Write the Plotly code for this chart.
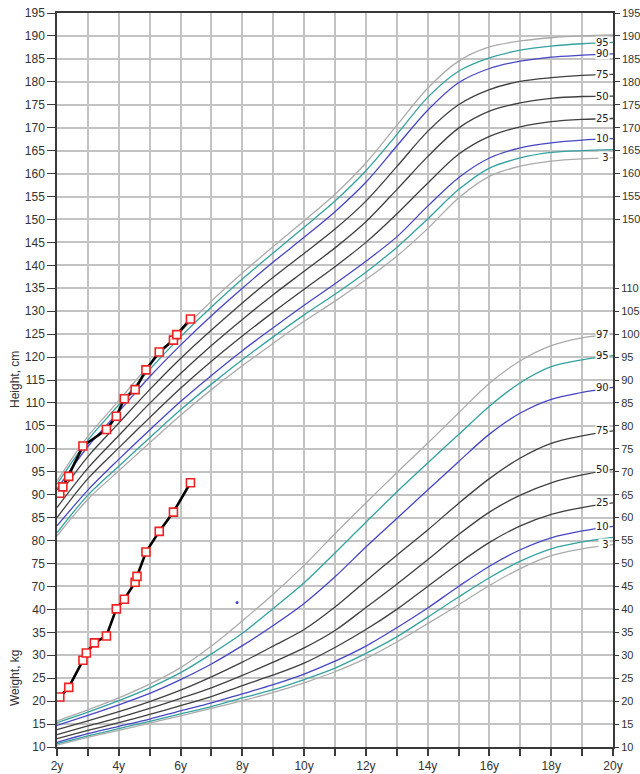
import plotly.graph_objects as go

# ---------------- data ----------------
ages = [2, 3, 4, 5, 6, 7, 8, 9, 10, 11, 12, 13, 14, 15, 16, 17, 18, 19, 20]

# Height-for-age percentile curves (cm)
height_p97 = [93.0, 102.7, 110.5, 118.4, 125.5, 132.2, 138.3, 144.1, 149.7, 155.5, 162.3, 170.5, 178.6, 184.5, 187.6, 188.9, 189.6, 190.0, 190.2]
height_p95 = [92.3, 101.9, 109.6, 117.3, 124.4, 130.9, 137.0, 142.7, 148.3, 154.0, 160.6, 168.5, 176.6, 182.3, 185.2, 186.9, 187.8, 188.3, 188.6]
height_p90 = [91.2, 100.5, 108.1, 115.7, 122.6, 129.0, 135.0, 140.7, 146.1, 151.7, 158.1, 166.0, 173.8, 179.8, 182.9, 184.5, 185.4, 185.8, 186.1]
height_p75 = [89.4, 98.3, 105.6, 112.9, 119.7, 125.9, 131.8, 137.4, 142.6, 147.9, 154.0, 161.5, 169.2, 175.0, 178.3, 180.1, 180.9, 181.4, 181.6]
height_p50 = [87.2, 95.8, 102.9, 109.9, 116.4, 122.5, 128.2, 133.6, 138.7, 143.8, 149.5, 156.5, 163.7, 169.9, 173.6, 175.4, 176.4, 176.8, 176.9]
height_p25 = [85.0, 93.5, 100.2, 106.8, 113.2, 119.1, 124.6, 129.8, 134.8, 139.7, 145.0, 151.2, 157.9, 164.2, 168.1, 170.2, 171.3, 171.8, 172.0]
height_p10 = [83.2, 91.0, 97.7, 104.1, 110.3, 116.0, 121.4, 126.4, 131.3, 136.0, 140.9, 146.2, 152.9, 159.1, 163.4, 165.6, 166.7, 167.3, 167.6]
height_p5 = [81.7, 89.9, 96.2, 102.4, 108.5, 114.1, 119.4, 124.4, 129.2, 133.7, 138.5, 143.9, 150.1, 156.5, 161.2, 163.4, 164.6, 165.0, 165.2]
height_p3 = [81.0, 89.0, 95.2, 101.3, 107.3, 112.9, 118.1, 123.0, 127.8, 132.2, 136.9, 142.0, 148.0, 154.7, 159.4, 161.6, 162.7, 163.2, 163.4]

# Weight-for-age percentile curves (kg)
weight_p97 = [15.7, 18.1, 20.7, 23.7, 27.3, 32.0, 37.5, 43.3, 49.6, 56.5, 63.2, 69.8, 76.2, 82.8, 89.3, 94.2, 97.5, 99.2, 100.0]
weight_p95 = [15.3, 17.6, 20.1, 22.9, 26.2, 30.3, 34.8, 40.2, 45.8, 52.3, 59.0, 65.6, 71.9, 78.1, 84.3, 89.4, 92.9, 94.4, 95.3]
weight_p90 = [14.7, 16.9, 19.2, 21.7, 24.7, 28.1, 32.1, 36.5, 41.3, 47.1, 53.6, 59.8, 66.0, 72.2, 78.2, 82.8, 85.8, 87.3, 88.4]
weight_p75 = [13.8, 15.7, 17.7, 19.9, 22.4, 25.3, 28.5, 32.0, 35.6, 40.5, 46.2, 51.8, 57.3, 63.1, 68.5, 73.0, 76.2, 77.8, 78.9]
weight_p50 = [12.7, 14.6, 16.4, 18.4, 20.6, 22.9, 25.6, 28.5, 31.6, 35.4, 40.4, 45.5, 50.8, 56.3, 61.2, 64.9, 67.6, 69.3, 70.5]
weight_p25 = [11.8, 13.6, 15.3, 17.1, 19.0, 21.0, 23.4, 25.7, 28.3, 31.7, 35.6, 40.0, 45.0, 50.0, 54.6, 58.2, 60.7, 62.2, 63.2]
weight_p10 = [11.0, 12.9, 14.5, 16.1, 17.9, 19.6, 21.6, 23.6, 25.9, 28.7, 32.0, 36.0, 40.3, 45.0, 49.4, 53.0, 55.6, 57.1, 58.1]
weight_p5 = [10.7, 12.4, 14.0, 15.6, 17.2, 18.8, 20.7, 22.5, 24.7, 27.2, 30.4, 34.0, 38.3, 42.7, 46.9, 50.5, 53.2, 54.7, 55.7]
weight_p3 = [10.4, 12.1, 13.6, 15.2, 16.8, 18.4, 20.1, 21.9, 24.0, 26.4, 29.3, 32.9, 36.9, 41.0, 45.2, 48.9, 51.7, 53.2, 54.1]

# Patient measurements
pat_height_age = [2.09, 2.19, 2.38, 2.84, 3.60, 3.92, 4.18, 4.53, 4.88, 5.31, 5.77, 5.88, 6.32]
pat_height = [90.3, 91.7, 94.0, 100.6, 104.2, 107.1, 110.9, 112.9, 117.2, 121.1, 123.7, 124.9, 128.3]
pat_weight_age = [2.09, 2.38, 2.84, 2.95, 3.21, 3.60, 3.92, 4.18, 4.53, 4.59, 4.88, 5.31, 5.77, 6.32]
pat_weight = [20.9, 23.0, 28.9, 30.5, 32.7, 34.2, 40.1, 42.2, 45.9, 47.2, 52.5, 57.0, 61.2, 67.6]

stray_age = [7.83]
stray_weight = [41.5]

x_tick_years = list(range(2, 21))
left_height_ticks = list(range(35, 196, 5))
left_weight_ticks = list(range(10, 41, 5))
right_height_ticks = list(range(150, 196, 5))
right_weight_ticks = list(range(10, 111, 5))

# ---------------- styling ----------------
GRAY = "#ababab"
TEAL = "#34a2a0"
BLUE = "#4646c4"
DARK = "#3f3f3f"
AX = "#3a3a3a"
TXT = "#333333"

height_curves = [
    ("97", height_p97, GRAY, False), ("95", height_p95, TEAL, True), ("90", height_p90, BLUE, True),
    ("75", height_p75, DARK, True), ("50", height_p50, DARK, True), ("25", height_p25, DARK, True),
    ("10", height_p10, BLUE, True), ("5", height_p5, TEAL, False), ("3", height_p3, GRAY, True),
]
weight_curves = [
    ("97", weight_p97, GRAY, True), ("95", weight_p95, TEAL, True), ("90", weight_p90, BLUE, True),
    ("75", weight_p75, DARK, True), ("50", weight_p50, DARK, True), ("25", weight_p25, DARK, True),
    ("10", weight_p10, BLUE, True), ("5", weight_p5, TEAL, False), ("3", weight_p3, GRAY, True),
]

fig = go.Figure()
annotations = []

label_font = dict(family="DejaVu Sans", size=10, color="#222")

for name, vals, col, lab in height_curves:
    fig.add_trace(go.Scatter(x=ages, y=vals, mode="lines", yaxis="y",
                             line=dict(color=col, width=1.3, shape="spline", smoothing=0.9),
                             hoverinfo="skip"))
    if lab:
        annotations.append(dict(x=20, y=vals[-1], xref="x", yref="y", xanchor="right", yanchor="middle",
                                xshift=-3, text=name if len(name) > 1 else "\u00a0" + name,
                                showarrow=False, bgcolor="white", borderpad=0, font=label_font))

for name, vals, col, lab in weight_curves:
    fig.add_trace(go.Scatter(x=ages, y=vals, mode="lines", yaxis="y4",
                             line=dict(color=col, width=1.3, shape="spline", smoothing=0.9),
                             hoverinfo="skip"))
    if lab:
        annotations.append(dict(x=20, y=vals[-1], xref="x", yref="y4", xanchor="right", yanchor="middle",
                                xshift=-3, text=name if len(name) > 1 else "\u00a0" + name,
                                showarrow=False, bgcolor="white", borderpad=0, font=label_font))

marker_style = dict(symbol="square", size=8, color="white", line=dict(color="#ee2222", width=1.6))
fig.add_trace(go.Scatter(x=pat_height_age, y=pat_height, mode="lines+markers", yaxis="y",
                         line=dict(color="black", width=2.6), marker=marker_style))
fig.add_trace(go.Scatter(x=pat_weight_age, y=pat_weight, mode="lines+markers", yaxis="y4",
                         line=dict(color="black", width=2.6), marker=marker_style))
fig.add_trace(go.Scatter(x=stray_age, y=stray_weight, mode="markers", yaxis="y4",
                         marker=dict(size=3, color=BLUE)))

# invisible anchors so the extra tick axes are drawn
fig.add_trace(go.Scatter(x=[2], y=[10], mode="markers", yaxis="y2", opacity=0,
                         marker=dict(size=1), hoverinfo="skip"))
fig.add_trace(go.Scatter(x=[2], y=[35], mode="markers", yaxis="y3", opacity=0,
                         marker=dict(size=1), hoverinfo="skip"))

PL, PR, PT, PB = 57, 27, 13, 27
pw, ph = 640 - PL - PR, 774 - PT - PB

def px_to_paper(px, py):
    return (px - PL) / pw, 1 - (py - PT) / ph

for txt, (px, py) in [("Height, cm", (15, 380)), ("Weight, kg", (15, 678))]:
    ax_, ay_ = px_to_paper(px, py)
    annotations.append(dict(x=ax_, y=ay_, xref="paper", yref="paper", text=txt, textangle=-90,
                            xanchor="center", yanchor="middle", showarrow=False,
                            font=dict(family="Liberation Sans", size=12, color=TXT)))

tickfont = dict(family="Liberation Sans", size=12, color=TXT)
rtickfont = dict(family="Liberation Sans", size=11, color=TXT)
grid = "#c3c3c3"

fig.update_layout(
    width=640, height=774,
    margin=dict(l=PL, r=PR, t=PT, b=PB),
    plot_bgcolor="white", paper_bgcolor="white",
    showlegend=False, hovermode=False,
    annotations=annotations,
    xaxis=dict(range=[2, 20], tickvals=x_tick_years,
               ticktext=[f"{a}y" if a % 2 == 0 else "" for a in x_tick_years],
               ticks="outside", ticklen=7, tickwidth=1.5, tickcolor=AX,
               showgrid=True, gridcolor=grid, gridwidth=1.5,
               showline=True, linecolor=AX, linewidth=1.5, mirror=True,
               zeroline=False, tickfont=tickfont, automargin=False),
    yaxis=dict(range=[35, 195], tickvals=left_height_ticks,
               ticktext=[str(v) if v >= 70 else "" for v in left_height_ticks],
               ticks="outside", ticklen=8, tickwidth=1.2, tickcolor=AX,
               showgrid=True, gridcolor=grid, gridwidth=1.5,
               showline=True, linecolor=AX, linewidth=1.5, side="left",
               zeroline=False, tickfont=tickfont, automargin=False),
    yaxis2=dict(range=[10, 170], overlaying="y", side="left", tickvals=left_weight_ticks,
                ticktext=[str(v) for v in left_weight_ticks],
                ticks="outside", ticklen=8, tickwidth=1.2, tickcolor=AX,
                showgrid=False, showline=False, zeroline=False, tickfont=tickfont, automargin=False),
    yaxis3=dict(range=[35, 195], overlaying="y", side="right", tickvals=right_height_ticks,
                ticktext=[str(v) for v in right_height_ticks],
                ticks="outside", ticklen=5, tickwidth=1.2, tickcolor=AX,
                showgrid=False, showline=True, linecolor=AX, linewidth=1.5,
                zeroline=False, tickfont=rtickfont, automargin=False),
    yaxis4=dict(range=[10, 170], overlaying="y", side="right", tickvals=right_weight_ticks,
                ticktext=[str(v) for v in right_weight_ticks],
                ticks="outside", ticklen=5, tickwidth=1.2, tickcolor=AX,
                showgrid=False, showline=False, zeroline=False, tickfont=rtickfont, automargin=False),
)

fig.write_html("out.html", config={"displayModeBar": False},
               post_script="document.body.style.margin='0';document.body.style.overflow='hidden';")
